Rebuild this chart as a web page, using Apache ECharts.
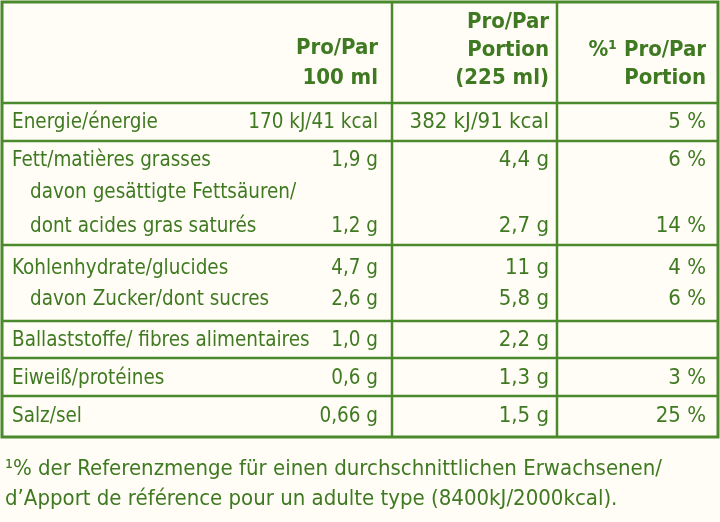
<!DOCTYPE html>
<html><head><meta charset="utf-8">
<script src="https://cdn.jsdelivr.net/npm/echarts@6/dist/echarts.min.js"></script>
<style>html,body{margin:0;padding:0;background:#fffdf5}#c{width:720px;height:522px}</style>
</head><body><div id="c"></div>
<script>
const headers = [["Pro/Par","100 ml"],["Pro/Par","Portion","(225 ml)"],["%\u00b9 Pro/Par","Portion"]];
const labels = ["Energie/énergie","Fett/matières grasses","davon gesättigte Fettsäuren/","dont acides gras saturés","Kohlenhydrate/glucides","davon Zucker/dont sucres","Ballaststoffe/ fibres alimentaires","Eiweiß/protéines","Salz/sel"];
const indent = [0,0,1,1,0,1,0,0,0];
const per100 = ["170 kJ/41 kcal","1,9 g","","1,2 g","4,7 g","2,6 g","1,0 g","0,6 g","0,66 g"];
const perPortion = ["382 kJ/91 kcal","4,4 g","","2,7 g","11 g","5,8 g","2,2 g","1,3 g","1,5 g"];
const pctPortion = ["5 %","6 %","","14 %","4 %","6 %","","3 %","25 %"];
const footnote = ["\u00b9% der Referenzmenge für einen durchschnittlichen Erwachsenen/","d’Apport de référence pour un adulte type (8400kJ/2000kcal)."];

const rowY = [122,160,192,226,268,299,340,378,416];
const hLines = [103,141,245,321,358,396];
const green = '#4b8a2c', txt = '#3f7a22';
const font = '"DejaVu Sans Condensed",sans-serif';
const g = [];
const T = (x,y,s,align,bold,sx)=>g.push({type:'text',x,y,scaleX:sx||1,style:{text:s,fill:txt,font:(bold?'bold ':'')+'22px '+font,textAlign:align,textVerticalAlign:'middle'}});
const L = (x1,y1,x2,y2,w)=>g.push({type:'line',shape:{x1,y1,x2,y2},style:{stroke:green,lineWidth:w||2.5}});
g.push({type:'rect',shape:{x:2,y:2,width:716,height:435},style:{fill:'none',stroke:green,lineWidth:3}});
L(392,2,392,437); L(557,2,557,437);
hLines.forEach(y=>L(2,y,718,y));
const colR=[378,549,706];
T(colR[0],48,headers[0][0],'right',true);T(colR[0],78,headers[0][1],'right',true);
T(colR[1],22,headers[1][0],'right',true);T(colR[1],50,headers[1][1],'right',true);T(colR[1],78,headers[1][2],'right',true);
T(colR[2],50,headers[2][0],'right',true);T(colR[2],78,headers[2][1],'right',true);
labels.forEach((l,i)=>{
  T(indent[i]?30:12,rowY[i],l,'left',false,0.93);
  T(colR[0],rowY[i],per100[i],'right',false,0.93);
  T(colR[1],rowY[i],perPortion[i],'right');
  T(colR[2],rowY[i],pctPortion[i],'right');
});
T(5,469,footnote[0],'left');T(5,499,footnote[1],'left');
const chart = echarts.init(document.getElementById('c'));
chart.setOption({backgroundColor:'#fffdf5',graphic:g});
</script></body></html>
